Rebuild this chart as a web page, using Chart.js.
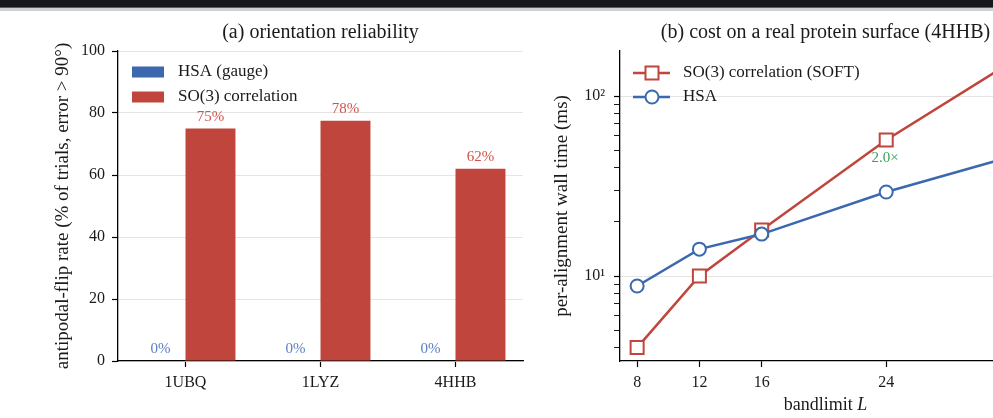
<!DOCTYPE html>
<html>
<head>
<meta charset="utf-8">
<script src="https://cdn.jsdelivr.net/npm/chart.js@4.4.1/dist/chart.umd.min.js"></script>
<style>
  html, body { margin: 0; padding: 0; background: #fff; }
  body { width: 993px; height: 418px; overflow: hidden; position: relative; }
  #bandDark { position: absolute; left: 0; top: 0; width: 993px; height: 7px; background: #16181d; z-index: 3; }
  #bandMid { position: absolute; left: 0; top: 7px; width: 993px; height: 1px; background: #5b5d62; z-index: 3; }
  #bandLight { position: absolute; left: 0; top: 8px; width: 993px; height: 3px; background: #d0d1d5; z-index: 3; }
  #boxA { position: absolute; left: 0; top: 0; width: 535px; height: 418px; }
  #boxB { position: absolute; left: 535px; top: 0; width: 520px; height: 418px; }
</style>
</head>
<body>
<div id="bandDark"></div><div id="bandMid"></div><div id="bandLight"></div>
<div id="boxA"><canvas id="chartA"></canvas></div>
<div id="boxB"><canvas id="chartB"></canvas></div>
<script>
// (a) flip rate per protein
const proteins = ['1UBQ', '1LYZ', '4HHB'];
const hsaFlipRate = [0, 0, 0];
const so3FlipRate = [75, 77.5, 62];
const flipTicks = [0, 20, 40, 60, 80, 100];

// (b) wall time vs bandlimit
const bandlimits = [8, 12, 16, 24, 32];
const softTimeMs = [4.0, 10.0, 18.0, 57.0, 154];
const hsaTimeMs = [8.8, 14.1, 17.1, 29.3, 46];
const logTicks = [4, 5, 6, 7, 8, 9, 10, 20, 30, 40, 50, 60, 70, 80, 90, 100];
const logLabels = { 10: '10¹', 100: '10²' };
const speedupNotes = [{ L: 24, text: '2.0×' }];

const RED = '#c0463d';
const BLUE = '#3b68af';
const RED_TXT = '#d0534a';
const BLUE_TXT = '#5a80c6';
const GREEN = '#3f9e5f';
const INK = '#1a1a1a';
const FONT = '"Liberation Serif", "Times New Roman", serif';

// titles centred over the plot area, plus optional x title with italic part
const panelText = {
  id: 'panelText',
  afterDraw(chart, args, opts) {
    const { ctx, chartArea } = chart;
    const cx = (chartArea.left + chartArea.right) / 2;
    ctx.save();
    ctx.fillStyle = INK;
    ctx.textBaseline = 'middle';
    ctx.textAlign = 'center';
    ctx.font = opts.titleSize + 'px ' + FONT;
    ctx.fillText(opts.title, cx, opts.titleY);
    if (opts.xTitle) {
      const normal = opts.xSize + 'px ' + FONT;
      const italic = 'italic ' + opts.xSize + 'px ' + FONT;
      ctx.font = normal;
      const w1 = ctx.measureText(opts.xTitle).width;
      ctx.font = italic;
      const w2 = ctx.measureText(opts.xItalic).width;
      let x = cx - (w1 + w2) / 2;
      ctx.textAlign = 'left';
      ctx.font = normal;
      ctx.fillText(opts.xTitle, x, opts.xTitleY);
      ctx.font = italic;
      ctx.fillText(opts.xItalic, x + w1, opts.xTitleY);
    }
    ctx.restore();
  }
};

// legend drawn inside the plot, upper left
const innerLegend = {
  id: 'innerLegend',
  afterDraw(chart, args, opts) {
    const { ctx, chartArea } = chart;
    ctx.save();
    ctx.font = opts.size + 'px ' + FONT;
    ctx.textBaseline = 'middle';
    ctx.textAlign = 'left';
    chart.data.datasets.forEach((ds, i) => {
      const y = chartArea.top + opts.y0 + i * opts.dy;
      const x = chartArea.left + opts.x0;
      if (opts.kind === 'box') {
        ctx.fillStyle = ds.backgroundColor;
        ctx.fillRect(x, y - 5.5, 32, 11);
        ctx.fillStyle = INK;
        ctx.fillText(ds.label, x + 46, y);
      } else {
        ctx.strokeStyle = ds.borderColor;
        ctx.lineWidth = 2.5;
        ctx.beginPath();
        ctx.moveTo(x, y);
        ctx.lineTo(x + 37, y);
        ctx.stroke();
        ctx.fillStyle = '#fff';
        ctx.lineWidth = 2;
        ctx.beginPath();
        if (ds.pointStyle === 'rect') {
          ctx.rect(x + 12.5, y - 6.5, 13, 13);
        } else {
          ctx.arc(x + 19, y, 6.5, 0, Math.PI * 2);
        }
        ctx.fill();
        ctx.stroke();
        ctx.fillStyle = INK;
        ctx.fillText(ds.label, x + 50, y);
      }
    });
    ctx.restore();
  }
};

// percentage labels above each bar
const barLabels = {
  id: 'barLabels',
  afterDatasetsDraw(chart) {
    const { ctx } = chart;
    ctx.save();
    ctx.font = '15px ' + FONT;
    ctx.textAlign = 'center';
    ctx.textBaseline = 'bottom';
    chart.data.datasets.forEach((ds, di) => {
      const meta = chart.getDatasetMeta(di);
      ctx.fillStyle = ds.labelColor;
      meta.data.forEach((el, i) => {
        ctx.fillText(Math.round(ds.data[i]) + '%', el.x, el.y - 4);
      });
    });
    ctx.restore();
  }
};

// speed-up note under the SOFT marker
const speedup = {
  id: 'speedup',
  afterDatasetsDraw(chart) {
    const { ctx } = chart;
    const meta = chart.getDatasetMeta(0);
    ctx.save();
    ctx.font = '15px ' + FONT;
    ctx.fillStyle = GREEN;
    ctx.textAlign = 'center';
    ctx.textBaseline = 'middle';
    speedupNotes.forEach(n => {
      const el = meta.data[bandlimits.indexOf(n.L)];
      ctx.fillText(n.text, el.x - 1, el.y + 18);
    });
    ctx.restore();
  }
};

const tickFont = { family: FONT, size: 16 };
const axisBorder = { color: '#000', width: 1.3 };

new Chart(document.getElementById('chartA'), {
  type: 'bar',
  data: {
    labels: proteins,
    datasets: [
      { label: 'HSA (gauge)', data: hsaFlipRate, backgroundColor: BLUE, labelColor: BLUE_TXT },
      { label: 'SO(3) correlation', data: so3FlipRate, backgroundColor: RED, labelColor: RED_TXT }
    ]
  },
  options: {
    responsive: true,
    maintainAspectRatio: false,
    animation: false,
    devicePixelRatio: 1,
    layout: { padding: { left: 0, right: 12, top: 51, bottom: 0 } },
    datasets: { bar: { barPercentage: 1, categoryPercentage: 0.74 } },
    plugins: {
      legend: { display: false },
      tooltip: { enabled: false },
      panelText: { title: '(a) orientation reliability', titleSize: 20, titleY: 33 },
      innerLegend: { kind: 'box', x0: 14, y0: 21, dy: 25, size: 17 }
    },
    scales: {
      x: {
        grid: { offset: false, drawOnChartArea: false, tickLength: 6, tickColor: '#000', tickWidth: 1.2 },
        border: axisBorder,
        ticks: { font: tickFont, color: INK, padding: 6 },
        afterFit: s => { s.height = 57; }
      },
      y: {
        min: 0,
        max: 100,
        afterBuildTicks: s => { s.ticks = flipTicks.map(v => ({ value: v })); },
        grid: { color: '#e4e4e4', lineWidth: 1, tickLength: 6, tickColor: '#000', tickWidth: 1.2 },
        border: axisBorder,
        ticks: { font: tickFont, color: INK, padding: 7 },
        title: {
          display: true,
          text: 'antipodal-flip rate (% of trials, error > 90°)',
          font: { family: FONT, size: 19 },
          color: INK,
          padding: { top: 52, bottom: 0 }
        },
        afterFit: s => { s.width = 118; }
      }
    }
  },
  plugins: [panelText, innerLegend, barLabels]
});

new Chart(document.getElementById('chartB'), {
  type: 'line',
  data: {
    datasets: [
      {
        label: 'SO(3) correlation (SOFT)',
        data: bandlimits.map((L, i) => ({ x: L, y: softTimeMs[i] })),
        borderColor: RED, borderWidth: 2.5,
        pointStyle: 'rect', pointRadius: 9.2, pointBorderWidth: 2,
        pointBackgroundColor: '#fff', pointBorderColor: RED,
        order: 1
      },
      {
        label: 'HSA',
        data: bandlimits.map((L, i) => ({ x: L, y: hsaTimeMs[i] })),
        borderColor: BLUE, borderWidth: 2.5,
        pointStyle: 'circle', pointRadius: 6.5, pointBorderWidth: 2,
        pointBackgroundColor: '#fff', pointBorderColor: BLUE,
        order: 0
      }
    ]
  },
  options: {
    responsive: true,
    maintainAspectRatio: false,
    animation: false,
    devicePixelRatio: 1,
    layout: { padding: { left: 0, right: 24, top: 51, bottom: 0 } },
    plugins: {
      legend: { display: false },
      tooltip: { enabled: false },
      panelText: {
        title: '(b) cost on a real protein surface (4HHB)', titleSize: 20, titleY: 33,
        xTitle: 'bandlimit ', xItalic: 'L', xSize: 18, xTitleY: 405
      },
      innerLegend: { kind: 'line', x0: 13, y0: 22, dy: 24, size: 17 }
    },
    scales: {
      x: {
        type: 'linear',
        min: 6.9,
        max: 33.3,
        afterBuildTicks: s => { s.ticks = bandlimits.map(v => ({ value: v })); },
        grid: { drawOnChartArea: false, tickLength: 6, tickColor: '#000', tickWidth: 1.2 },
        border: axisBorder,
        ticks: { font: tickFont, color: INK, padding: 6 },
        afterFit: s => { s.height = 57; }
      },
      y: {
        type: 'logarithmic',
        min: 3.37,
        max: 178,
        afterBuildTicks: s => { s.ticks = logTicks.map(v => ({ value: v })); },
        grid: {
          color: c => (logLabels[c.tick && c.tick.value] ? '#e4e4e4' : 'rgba(0,0,0,0)'),
          tickLength: 6,
          tickColor: '#000',
          tickWidth: c => (logLabels[c.tick && c.tick.value] ? 1.2 : 0.9)
        },
        border: axisBorder,
        ticks: {
          font: tickFont, color: INK, padding: 9, autoSkip: false,
          callback: v => logLabels[v] || ''
        },
        title: {
          display: true,
          text: 'per-alignment wall time (ms)',
          font: { family: FONT, size: 19 },
          color: INK,
          padding: { top: 16, bottom: 0 }
        },
        afterFit: s => { s.width = 85; }
      }
    }
  },
  plugins: [panelText, innerLegend, speedup]
});
</script>
</body>
</html>
